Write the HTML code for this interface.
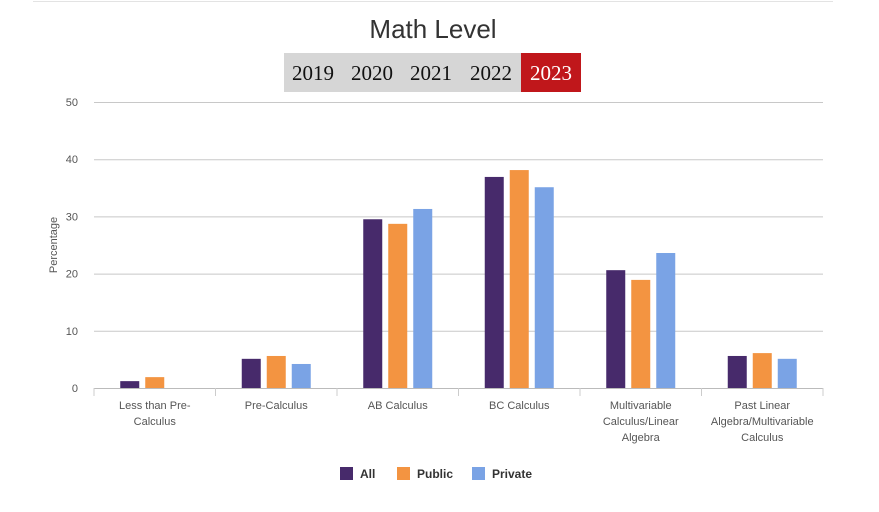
<!DOCTYPE html>
<html><head><meta charset="utf-8"><style>
body{margin:0;background:#fff;width:879px;height:507px;overflow:hidden;font-family:"Liberation Sans",sans-serif}
</style></head><body>
<svg width="879" height="507" xmlns="http://www.w3.org/2000/svg">
<line x1="33" y1="1.5" x2="833" y2="1.5" stroke="#e3e3e3"/>
<text x="433" y="38" text-anchor="middle" font-size="26" fill="#333" font-weight="300">Math Level</text>
<rect x="284" y="53" width="237" height="39" fill="#d6d6d6"/>
<g font-family="Liberation Serif,serif" font-size="21" fill="#111">
<text x="313" y="80" text-anchor="middle">2019</text>
<text x="372" y="80" text-anchor="middle">2020</text>
<text x="431" y="80" text-anchor="middle">2021</text>
<text x="491" y="80" text-anchor="middle">2022</text>
</g>
<rect x="521" y="53" width="60" height="39" fill="#c0171b"/>
<text x="551" y="80" text-anchor="middle" font-family="Liberation Serif,serif" font-size="21" fill="#fff">2023</text>
<text x="57" y="245" text-anchor="middle" font-size="11" fill="#555" transform="rotate(-90 57 245)">Percentage</text>
<g id="plot"></g>
<g id="legend"></g>
</svg>
<script>
const categories=[["Less than Pre-","Calculus"],["Pre-Calculus"],["AB Calculus"],["BC Calculus"],["Multivariable","Calculus/Linear","Algebra"],["Past Linear","Algebra/Multivariable","Calculus"]];
const seriesNames=["All","Public","Private"];
const allVals=[1.2,5.1,29.5,36.9,20.6,5.6];
const publicVals=[1.9,5.6,28.7,38.1,18.9,6.1];
const privateVals=[0,4.2,31.3,35.1,23.6,5.1];
const yTicks=[0,10,20,30,40,50];
const colors=["#472a6b","#f39441","#7aa3e5"];
const NS="http://www.w3.org/2000/svg";
const X0=94,X1=823,Y0=388,Y1=102,YMAX=50;
const y=v=>Y0-(v/YMAX)*(Y0-Y1);
const bandW=(X1-X0)/categories.length;
const xc=i=>X0+bandW*(i+0.5);
const plot=document.getElementById('plot');
function mk(tag,attrs,parent){const e=document.createElementNS(NS,tag);for(const k in attrs)e.setAttribute(k,attrs[k]);parent.appendChild(e);return e;}
yTicks.forEach(t=>{
 const l=mk('line',{x1:X0,x2:X1,y1:y(t)+0.5,y2:y(t)+0.5,stroke:t===0?'#bbb':'#c8c8c8'},plot);
 
 
 const tx=mk('text',{x:78,y:y(t)+4,'text-anchor':'end','font-size':11,fill:'#555'},plot);
 tx.textContent=t;
 
 
});
for(let i=0;i<=categories.length;i++){
 const x=X0+bandW*i;
 const l=mk('line',{x1:x,x2:x,y1:Y0,y2:Y0+8,stroke:'#ccc'},plot);
 
 
}
const series=[allVals,publicVals,privateVals];
const bw=19,gap=6;
categories.forEach((c,i)=>{
 series.forEach((s,j)=>{
  const v=s[i]; if(!v) return;
  const x=xc(i)+(j-1)*(bw+gap)-bw/2;
  const r=mk('rect',{x:x,y:y(v),width:bw,height:Y0-y(v),fill:colors[j]},plot);
  
  
 });
 const tx=mk('text',{x:xc(i),y:409,'text-anchor':'middle','font-size':11,fill:'#555'},plot);
 
 
 c.forEach((line,k)=>{const ts=mk('tspan',{x:xc(i),dy:k?16:0},tx);ts.textContent=line;});
});
const lg=document.getElementById('legend');
const lx=[340,397,472];
seriesNames.forEach((n,j)=>{
 const r=mk('rect',{x:lx[j],y:467,width:13,height:13,fill:colors[j]},lg);
 
 
 const t=mk('text',{x:lx[j]+20,y:478,'font-size':12,'font-weight':'bold',fill:'#333'},lg);
 t.textContent=n;
 
 
});
</script>
</body></html>
